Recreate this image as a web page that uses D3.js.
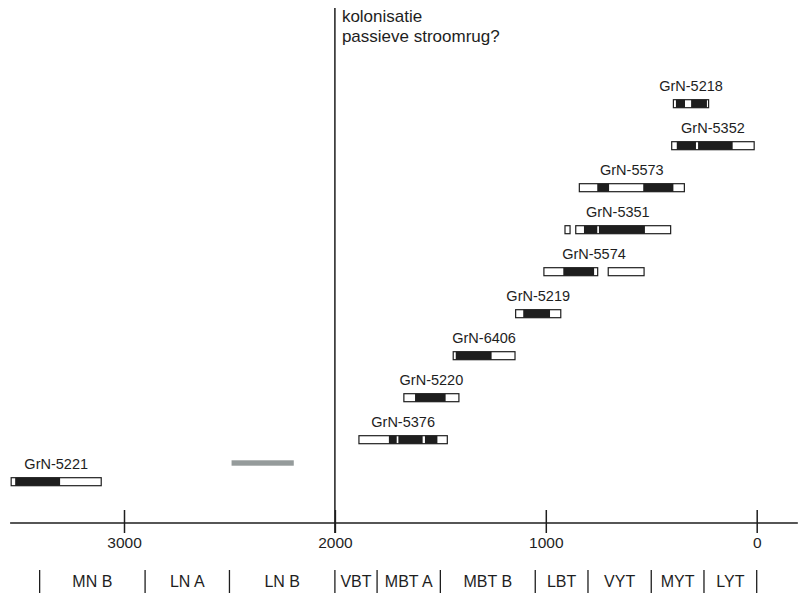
<!DOCTYPE html>
<html><head><meta charset="utf-8">
<script src="https://cdn.jsdelivr.net/npm/d3@7"></script>
<style>
body{margin:0;background:#fff;}
svg{display:block;font-family:"Liberation Sans",Arial,Helvetica,sans-serif;}
</style></head>
<body>
<svg id="chart" width="798" height="595"></svg>
<script>
// ---- data (years BC) ----
const samples = ["GrN-5218","GrN-5352","GrN-5573","GrN-5351","GrN-5574","GrN-5219","GrN-6406","GrN-5220","GrN-5376","GrN-5221"];
// outer (2 sigma) ranges per sample
const outerRanges = [
  [[395,228]],
  [[403,12]],
  [[841,343]],
  [[909,885],[858,408]],
  [[1009,754],[704,534]],
  [[1143,929]],
  [[1439,1146]],
  [[1673,1412]],
  [[1886,1467]],
  [[3535,3108]]
];
// inner (1 sigma) ranges per sample
const innerRanges = [
  [[383,340],[311,236]],
  [[379,288],[278,114]],
  [[756,700],[538,395]],
  [[819,756],[748,530]],
  [[917,771]],
  [[1107,980]],
  [[1427,1257]],
  [[1620,1475]],
  [[1744,1707],[1699,1584],[1573,1514]],
  [[3516,3303]]
];
const greyRange = [2490,2195];
const colonisationYear = 2000;
const annotationLines = ["kolonisatie","passieve stroomrug?"];
const tickValues = [3000,2000,1000,0];
const periodBounds = [3400,2900,2500,2000,1800,1500,1050,800,500,250,0];
const periodLabels = ["MN B","LN A","LN B","VBT","MBT A","MBT B","LBT","VYT","MYT","LYT"];

// ---- drawing ----
const svg = d3.select("#chart");
const ink = "#1e1e1e";
const x = d3.scaleLinear().domain([3000,0]).range([124,756.7]);
const y = d3.scalePoint().domain(samples).range([103.7,481.7]);
const barH = 8;

// vertical colonisation line
svg.append("line")
  .attr("x1", x(colonisationYear)).attr("x2", x(colonisationYear))
  .attr("y1", 8).attr("y2", 533)
  .attr("stroke", ink).attr("stroke-width", 1.5);

svg.append("text")
  .attr("x", x(colonisationYear) + 7).attr("y", 22)
  .attr("font-size", 17).attr("fill", ink)
  .selectAll("tspan").data(annotationLines).join("tspan")
  .attr("x", x(colonisationYear) + 7)
  .attr("dy", (d,i) => i ? 20 : 0)
  .text(d => d);

// grey bar
svg.append("rect")
  .attr("x", x(greyRange[0])).attr("width", x(greyRange[1]) - x(greyRange[0]))
  .attr("y", 460.3).attr("height", 5.4)
  .attr("fill", "#959b9b");

// samples
const g = svg.append("g").selectAll("g").data(samples).join("g");
g.each(function(name, i){
  const grp = d3.select(this);
  const cy = y(name);
  outerRanges[i].forEach(r => {
    grp.append("rect")
      .attr("x", x(r[0])).attr("width", x(r[1]) - x(r[0]))
      .attr("y", cy - barH/2).attr("height", barH)
      .attr("fill", "#fff").attr("stroke", ink).attr("stroke-width", 1.2);
  });
  innerRanges[i].forEach(r => {
    grp.append("rect")
      .attr("x", x(r[0])).attr("width", x(r[1]) - x(r[0]))
      .attr("y", cy - barH/2).attr("height", barH)
      .attr("fill", ink);
  });
  const lo = d3.max(outerRanges[i].flat()), hi = d3.min(outerRanges[i].flat());
  grp.append("text")
    .attr("x", (x(lo) + x(hi)) / 2).attr("y", cy - 13)
    .attr("text-anchor", "middle").attr("font-size", 14.5).attr("fill", ink)
    .text(name);
});

// axis
const axisY = 523;
const axis = d3.axisBottom(x).tickValues(tickValues).tickFormat(d3.format("d")).tickSizeOuter(0);
const ag = svg.append("g").attr("transform", `translate(0,${axisY})`).call(axis);
ag.select(".domain").remove();
ag.append("line").attr("x1", x(3540)).attr("x2", x(-195)).attr("y1",0).attr("y2",0)
  .attr("stroke", ink).attr("stroke-width", 1.5);
ag.selectAll(".tick line").attr("y1", -13).attr("y2", 10).attr("stroke", ink).attr("stroke-width", 1.5);
ag.selectAll(".tick text").attr("y", 14).attr("dy", "0.71em")
  .attr("font-size", 15.5).attr("font-family", "'Liberation Sans',Arial,sans-serif").attr("fill", ink);

// period row
const pg = svg.append("g");
pg.selectAll("line").data(periodBounds).join("line")
  .attr("x1", d => x(d)).attr("x2", d => x(d))
  .attr("y1", 570).attr("y2", 593)
  .attr("stroke", ink).attr("stroke-width", 1.3);
pg.selectAll("text").data(periodLabels).join("text")
  .attr("x", (d,i) => (x(periodBounds[i]) + x(periodBounds[i+1])) / 2)
  .attr("y", 587)
  .attr("text-anchor", "middle").attr("font-size", 16).attr("fill", ink)
  .text(d => d);
</script>
</body></html>
